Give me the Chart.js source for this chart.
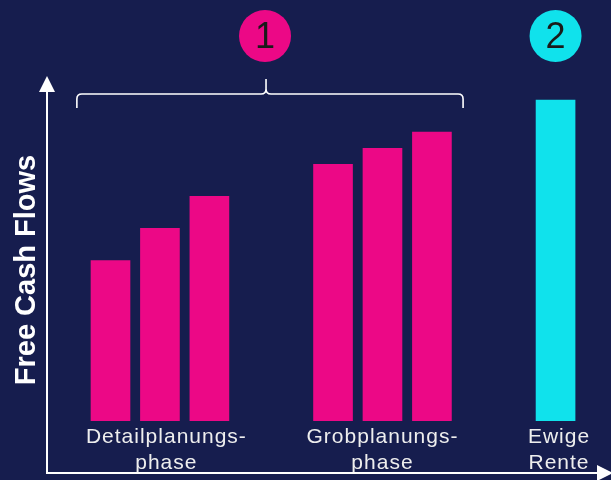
<!DOCTYPE html>
<html lang="de">
<head>
<meta charset="UTF-8">
<script src="https://cdn.jsdelivr.net/npm/chart.js"></script>
<title>Free Cash Flows</title>
<style>
  html, body { margin: 0; padding: 0; background: #161d4e; }
</style>
</head>
<body>
<canvas id="fcf" width="611" height="480"></canvas>
<script>
// data
const positions = [1, 2, 3, 5.5, 6.5, 7.5, 10];
const cashFlows = [50, 60, 70, 80, 85, 90, 100];
const phaseOfBar = [0, 0, 0, 0, 0, 0, 1];
const tickPositions = [2.13, 6.5, 10.07];
const tickLabels = [['Detailplanungs-', 'phase'], ['Grobplanungs-', 'phase'], ['Ewige', 'Rente']];
const markerPositions = [4.125, 10];
const markerLabels = ['1', '2'];
const braceRange = [0.32, 8.13];
const yTitle = 'Free Cash Flows';

const MAGENTA = '#ec0886';
const CYAN = '#10e2ec';
const BG = '#161d4e';
const phaseColors = [MAGENTA, CYAN];
const FONT = "'Liberation Sans', Arial, sans-serif";

Chart.defaults.font.family = FONT;

// background + arrows, brace, circled numbers, axis title
const deco = {
  id: 'deco',
  beforeDraw(chart) {
    const ctx = chart.ctx;
    ctx.save();
    ctx.fillStyle = BG;
    ctx.fillRect(0, 0, chart.width, chart.height);
    ctx.restore();
    // the category labels are slightly spaced out
    ctx.letterSpacing = '1px';
  },
  beforeDatasetsDraw(chart) {
    chart.ctx.letterSpacing = '0px';
  },
  afterDraw(chart) {
    const ctx = chart.ctx;
    const x = chart.scales.x;
    const ox = 47, oy = 473;
    ctx.save();
    ctx.letterSpacing = '0px';
    ctx.strokeStyle = '#ffffff';
    ctx.fillStyle = '#ffffff';
    ctx.lineWidth = 2;
    // y axis
    ctx.beginPath();
    ctx.moveTo(ox, oy);
    ctx.lineTo(ox, 90);
    ctx.stroke();
    ctx.beginPath();
    ctx.moveTo(ox, 76);
    ctx.lineTo(ox - 8, 92);
    ctx.lineTo(ox + 8, 92);
    ctx.closePath();
    ctx.fill();
    // x axis
    ctx.beginPath();
    ctx.moveTo(ox - 1, oy);
    ctx.lineTo(598, oy);
    ctx.stroke();
    ctx.beginPath();
    ctx.moveTo(613, oy);
    ctx.lineTo(597, oy - 8);
    ctx.lineTo(597, oy + 8);
    ctx.closePath();
    ctx.fill();

    // y axis title
    ctx.save();
    ctx.translate(35, 270);
    ctx.rotate(-Math.PI / 2);
    ctx.font = 'bold 29px ' + FONT;
    ctx.textAlign = 'center';
    ctx.textBaseline = 'alphabetic';
    ctx.fillText(yTitle, 0, 0);
    ctx.restore();

    // brace
    const bx0 = x.getPixelForValue(braceRange[0]);
    const bx1 = x.getPixelForValue(braceRange[1]);
    const bm = x.getPixelForValue(markerPositions[0]) + 1;
    const by = 94, r = 5;
    ctx.lineWidth = 1.6;
    ctx.beginPath();
    ctx.moveTo(bx0, 108);
    ctx.lineTo(bx0, by + r);
    ctx.quadraticCurveTo(bx0, by, bx0 + r, by);
    ctx.lineTo(bm - r, by);
    ctx.quadraticCurveTo(bm, by, bm, by - r);
    ctx.lineTo(bm, 79);
    ctx.moveTo(bm, by - r);
    ctx.quadraticCurveTo(bm, by, bm + r, by);
    ctx.lineTo(bx1 - r, by);
    ctx.quadraticCurveTo(bx1, by, bx1, by + r);
    ctx.lineTo(bx1, 108);
    ctx.stroke();

    // circled numbers
    markerPositions.forEach((v, i) => {
      const cx = x.getPixelForValue(v);
      ctx.beginPath();
      ctx.ellipse(cx, 36, 26, 26, 0, 0, Math.PI * 2);
      ctx.fillStyle = phaseColors[i];
      ctx.fill();
      ctx.fillStyle = '#1a1a1a';
      ctx.font = '36px ' + FONT;
      ctx.textAlign = 'center';
      ctx.textBaseline = 'middle';
      ctx.fillText(markerLabels[i], cx, 38);
    });
    ctx.restore();
  }
};

const chart = new Chart(document.getElementById('fcf'), {
  type: 'bar',
  data: {
    datasets: [{
      data: positions.map((p, i) => ({ x: p, y: cashFlows[i] })),
      backgroundColor: phaseOfBar.map(k => phaseColors[k]),
      barThickness: 39,
      borderWidth: 0
    }]
  },
  options: {
    responsive: false,
    animation: false,
    layout: { padding: { top: 76, right: 6, left: 0, bottom: 0 } },
    plugins: { legend: { display: false }, tooltip: { enabled: false } },
    scales: {
      x: {
        type: 'linear',
        offset: false,
        min: -0.284,
        max: 11.0,
        grid: { display: false, drawTicks: false },
        border: { display: false },
        afterBuildTicks: s => { s.ticks = tickPositions.map(v => ({ value: v })); },
        afterFit: s => { s.height = 59; },
        ticks: {
          autoSkip: false,
          maxRotation: 0,
          padding: 3,
          color: '#eeeeee',
          font: { size: 21, lineHeight: '26px' },
          callback: (v, i) => tickLabels[i]
        }
      },
      y: {
        min: 0,
        max: 107.5,
        grid: { display: false },
        border: { display: false },
        ticks: { display: false },
        afterFit: s => { s.width = 47; }
      }
    }
  },
  plugins: [deco]
});
</script>
</body>
</html>
